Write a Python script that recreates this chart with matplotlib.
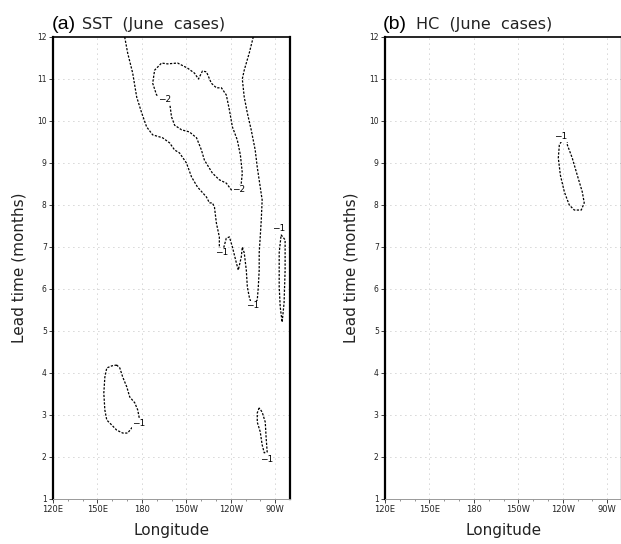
import matplotlib
matplotlib.use("Agg")
import matplotlib.pyplot as plt

# ---------------- data (longitude in degrees east, lead time in months) ----------------
lon_ticks = [120, 150, 180, 210, 240, 270]
lon_labels = ["120E", "150E", "180", "150W", "120W", "90W"]
lead_ticks = list(range(1, 13))

# Panel (a) SST: -1 contour, large open band reaching the top edge
sst_m1_band_lon = [168.4, 170.4, 173.8, 176.5, 179.9, 183.2, 187.3, 194.0, 198.7, 202.1,
                   205.4, 210.1, 213.5, 217.5, 223.6, 225.6, 227.6, 229.0, 230.3, 232.3,
                   232.3, 234.3, 237.0, 239.1, 241.1, 243.8, 245.1, 247.1, 247.8, 249.1,
                   250.5, 251.2, 252.5, 254.5, 257.9, 258.6, 259.2, 259.2, 259.9, 260.6,
                   261.2, 257.9, 256.5, 253.8, 251.2, 249.1, 247.8, 249.1, 252.5, 255.2]
sst_m1_band_lead = [12.0, 11.62, 11.14, 10.57, 10.19, 9.86, 9.67, 9.60, 9.48, 9.31,
                    9.24, 9.00, 8.67, 8.43, 8.19, 8.05, 8.05, 7.95, 7.57, 7.24,
                    7.00, 6.86, 7.21, 7.24, 7.00, 6.62, 6.45, 6.76, 7.00, 6.86,
                    6.45, 6.05, 5.81, 5.57, 5.74, 6.05, 6.45, 6.86, 7.24, 7.64,
                    8.12, 8.90, 9.31, 9.79, 10.19, 10.57, 11.00, 11.21, 11.62, 12.0]

# Panel (a) SST: -2 closed contour
sst_m2_lon = [198.7, 200.0, 202.1, 206.8, 212.1, 216.9, 220.2, 222.2, 227.6, 232.3,
              237.0, 240.4, 244.5, 247.1, 247.8, 246.5, 244.4, 241.1, 239.1, 237.0,
              233.7, 230.3, 226.9, 223.6, 220.9, 218.2, 215.5, 210.8, 204.1, 197.3,
              193.3, 188.6, 187.3, 189.9, 195.3, 198.7]
sst_m2_lead = [10.45, 10.10, 9.90, 9.79, 9.74, 9.60, 9.31, 9.07, 8.76, 8.60,
               8.52, 8.36, 8.36, 8.52, 8.76, 9.19, 9.55, 9.86, 10.26, 10.62,
               10.79, 10.79, 10.90, 11.17, 11.19, 11.00, 11.14, 11.26, 11.38, 11.36,
               11.38, 11.21, 10.90, 10.62, 10.50, 10.45]

# Panel (a) SST: -1 narrow loop near the eastern boundary
sst_m1_east_lon = [274.0, 276.7, 276.7, 276.0, 274.7, 273.4, 272.7, 272.7, 274.0]
sst_m1_east_lead = [7.29, 7.17, 6.45, 5.67, 5.21, 5.57, 6.05, 6.86, 7.29]

# Panel (a) SST: -1 loop in the western Pacific (lead 2.5-4.2)
sst_m1_west_lon = [163.0, 159.7, 156.3, 155.0, 154.3, 155.0, 156.3, 159.7, 163.0, 167.1,
                   170.4, 173.1, 178.5, 177.2, 175.2, 171.8, 169.8, 167.1, 165.1, 163.0]
sst_m1_west_lead = [4.19, 4.17, 4.12, 3.90, 3.52, 3.12, 2.88, 2.76, 2.64, 2.57,
                    2.57, 2.69, 2.88, 3.12, 3.29, 3.43, 3.67, 3.90, 4.12, 4.19]

# Panel (a) SST: -1 small loop in the eastern Pacific (lead 2-3.2)
sst_m1_se_lon = [259.2, 257.9, 257.9, 259.9, 261.2, 262.6, 264.6, 263.9, 263.3, 261.2, 259.2]
sst_m1_se_lead = [3.17, 3.05, 2.83, 2.60, 2.29, 2.10, 2.12, 2.45, 2.83, 3.07, 3.17]

# Panel (b) HC: -1 closed loop
hc_m1_lon = [242.4, 243.1, 243.1, 246.4, 249.8, 253.2, 254.5, 252.5, 247.8, 244.4,
             241.1, 238.4, 237.0, 237.7, 242.4]
hc_m1_lead = [9.71, 9.67, 9.43, 9.12, 8.71, 8.31, 8.05, 7.88, 7.88, 8.00,
              8.31, 8.71, 9.12, 9.43, 9.71]

# contour labels: (lon, lead, text)
sst_labels = [(195.3, 10.50, "−2"), (245.5, 8.36, "−2"), (234.0, 6.86, "−1"),
              (255.0, 5.60, "−1"), (272.3, 7.43, "−1"), (177.8, 2.79, "−1"),
              (263.9, 1.93, "−1")]
hc_labels = [(238.6, 9.62, "−1")]

# ---------------- figure ----------------
W, H = 621, 544
fig = plt.figure(figsize=(W / 100, H / 100), dpi=100)
fig.patch.set_facecolor("white")

ax_h = 462 / H
ax_b = 45 / H
axA = fig.add_axes([53 / W, ax_b, 237 / W, ax_h])
axB = fig.add_axes([385 / W, ax_b, 237 / W, ax_h])

line_kw = dict(color="black", lw=0.9, linestyle=(0, (1.8, 1.2)))


def style_axis(ax):
    ax.set_xlim(120, 280)
    ax.set_ylim(1, 12)
    ax.set_xticks(lon_ticks)
    ax.set_xticklabels(lon_labels, fontsize=6, family="DejaVu Sans")
    ax.set_yticks(lead_ticks)
    ax.set_yticklabels([str(v) for v in lead_ticks], fontsize=5.5, family="DejaVu Sans")
    ax.set_xticks(range(130, 280, 10), minor=True)
    ax.tick_params(axis="both", which="major", direction="out", length=3, width=0.6,
                   pad=1.5, colors="#222222")
    ax.tick_params(axis="x", which="minor", direction="out", length=1.5, width=0.5,
                   colors="#666666")
    for lv in lon_ticks[1:]:
        ax.axvline(lv, color="#aaaaaa", lw=0.6, linestyle=(0, (1, 5)), zorder=0)
    for lv in lead_ticks[1:-1]:
        ax.axhline(lv, color="#aaaaaa", lw=0.6, linestyle=(0, (1, 5)), zorder=0)
    ax.spines["left"].set_linewidth(1.6)
    ax.spines["top"].set_linewidth(1.2)
    ax.spines["right"].set_linewidth(1.6)
    ax.spines["bottom"].set_linewidth(0.7)
    ax.spines["bottom"].set_color("#999999")
    ax.set_xlabel("Longitude", fontsize=11, labelpad=6, color="#222222")
    ax.set_ylabel("Lead time (months)", fontsize=11, labelpad=8, color="#222222")


style_axis(axA)
style_axis(axB)

axA.plot(sst_m1_band_lon, sst_m1_band_lead, **line_kw)
axA.plot(sst_m2_lon, sst_m2_lead, **line_kw)
axA.plot(sst_m1_east_lon, sst_m1_east_lead, **line_kw)
axA.plot(sst_m1_west_lon, sst_m1_west_lead, **line_kw)
axA.plot(sst_m1_se_lon, sst_m1_se_lead, **line_kw)
axB.plot(hc_m1_lon, hc_m1_lead, **line_kw)

lbl_box = dict(facecolor="white", edgecolor="none", pad=0.3)
for x, y, t in sst_labels:
    axA.text(x, y, t, fontsize=6.5, ha="center", va="center", bbox=lbl_box, zorder=5)
for x, y, t in hc_labels:
    axB.text(x, y, t, fontsize=6.5, ha="center", va="center", bbox=lbl_box, zorder=5)

# titles
ty = 1 - 29 / H
fig.text(52 / W, ty, "(a)", fontsize=14, family="Liberation Sans", va="baseline")
fig.text(82 / W, ty, "SST  (June  cases)", fontsize=11.5, va="baseline", color="#222222")
fig.text(383 / W, ty, "(b)", fontsize=14, family="Liberation Sans", va="baseline")
fig.text(416 / W, ty, "HC  (June  cases)", fontsize=11.5, va="baseline", color="#222222")

fig.savefig("out.png", dpi=100, facecolor="white")
